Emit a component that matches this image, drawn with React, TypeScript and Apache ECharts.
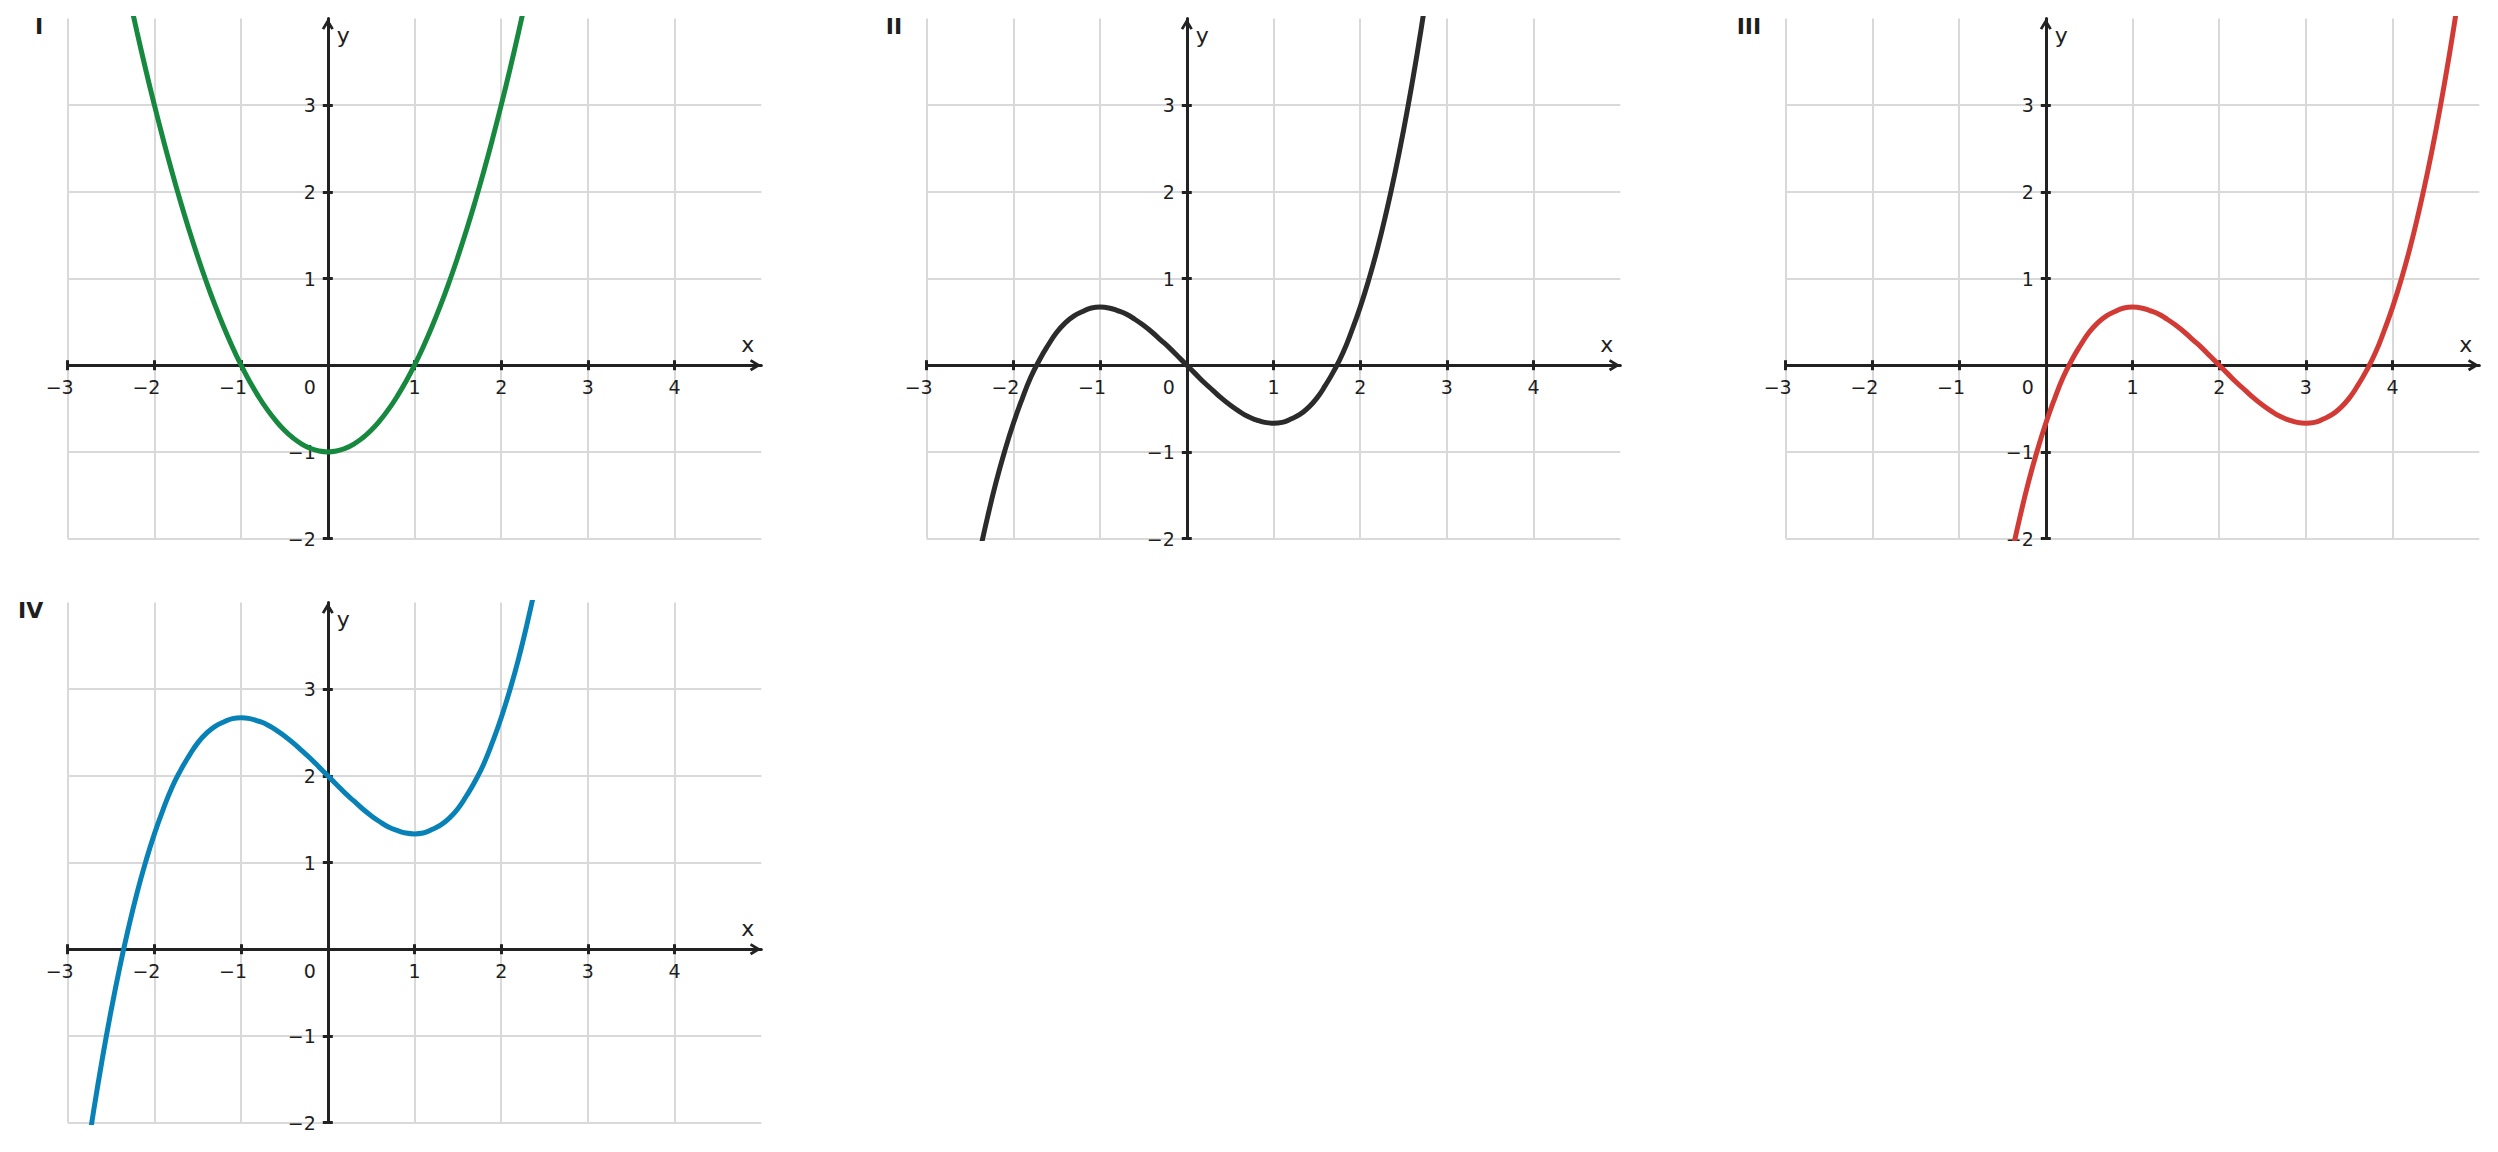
import * as echarts from "echarts";
import { useEffect, useRef } from "react";

const FONT = "DejaVu Sans";
const TEXT = "#1e1e1e";
const AXIS = "#222222";
const GRID_LINE = "#d9d9d9";

const PANEL_NAMES = ["I", "II", "III", "IV"];
const CURVE_COLORS = ["#16893f", "#2b2b2b", "#d23b35", "#0882b6"];

const X_TICKS = [-3, -2, -1, 1, 2, 3, 4];
const X_LABELS = [-3, -2, -1, 0, 1, 2, 3, 4];
const Y_TICKS = [-2, -1, 1, 2, 3];

// curve I
const X_I = [-2.3, -2.2, -2.1, -2, -1.9, -1.8, -1.7, -1.6, -1.5, -1.4, -1.3, -1.2, -1.1, -1, -0.9, -0.8, -0.7, -0.6, -0.5, -0.4, -0.3, -0.2, -0.1, 0,
  0.1, 0.2, 0.3, 0.4, 0.5, 0.6, 0.7, 0.8, 0.9, 1, 1.1, 1.2, 1.3, 1.4, 1.5, 1.6, 1.7, 1.8, 1.9, 2, 2.1, 2.2, 2.3];
const Y_I = [4.29, 3.84, 3.41, 3, 2.61, 2.24, 1.89, 1.56, 1.25, 0.96, 0.69, 0.44, 0.21, 0, -0.19, -0.36, -0.51, -0.64, -0.75, -0.84, -0.91, -0.96, -0.99, -1,
  -0.99, -0.96, -0.91, -0.84, -0.75, -0.64, -0.51, -0.36, -0.19, 0, 0.21, 0.44, 0.69, 0.96, 1.25, 1.56, 1.89, 2.24, 2.61, 3, 3.41, 3.84, 4.29];

// curve II
const X_II = [-2.4, -2.3, -2.2, -2.1, -2, -1.9, -1.8, -1.7, -1.6, -1.5, -1.4, -1.3, -1.2, -1.1, -1, -0.9, -0.8, -0.7, -0.6, -0.5, -0.4, -0.3, -0.2, -0.1, 0,
  0.1, 0.2, 0.3, 0.4, 0.5, 0.6, 0.7, 0.8, 0.9, 1, 1.1, 1.2, 1.3, 1.4, 1.5, 1.6, 1.7, 1.8, 1.9, 2, 2.1, 2.2, 2.3, 2.4, 2.5, 2.6, 2.7, 2.8];
const Y_II = [-2.21, -1.76, -1.35, -0.99, -0.67, -0.39, -0.14, 0.06, 0.23, 0.38, 0.49, 0.57, 0.62, 0.66, 0.67, 0.66, 0.63, 0.59, 0.53, 0.46, 0.38, 0.29, 0.2, 0.1, 0,
  -0.1, -0.2, -0.29, -0.38, -0.46, -0.53, -0.59, -0.63, -0.66, -0.67, -0.66, -0.62, -0.57, -0.49, -0.38, -0.23, -0.06, 0.14, 0.39, 0.67, 0.99, 1.35, 1.76, 2.21, 2.71, 3.26, 3.86, 4.52];

// curve III
const X_III = [-0.4, -0.3, -0.2, -0.1, 0, 0.1, 0.2, 0.3, 0.4, 0.5, 0.6, 0.7, 0.8, 0.9, 1, 1.1, 1.2, 1.3, 1.4, 1.5, 1.6, 1.7, 1.8, 1.9, 2,
  2.1, 2.2, 2.3, 2.4, 2.5, 2.6, 2.7, 2.8, 2.9, 3, 3.1, 3.2, 3.3, 3.4, 3.5, 3.6, 3.7, 3.8, 3.9, 4, 4.1, 4.2, 4.3, 4.4, 4.5, 4.6, 4.7, 4.8];
const Y_III = [-2.21, -1.76, -1.35, -0.99, -0.67, -0.39, -0.14, 0.06, 0.23, 0.38, 0.49, 0.57, 0.62, 0.66, 0.67, 0.66, 0.63, 0.59, 0.53, 0.46, 0.38, 0.29, 0.2, 0.1, 0,
  -0.1, -0.2, -0.29, -0.38, -0.46, -0.53, -0.59, -0.63, -0.66, -0.67, -0.66, -0.62, -0.57, -0.49, -0.38, -0.23, -0.06, 0.14, 0.39, 0.67, 0.99, 1.35, 1.76, 2.21, 2.71, 3.26, 3.86, 4.52];

// curve IV
const X_IV = [-2.8, -2.7, -2.6, -2.5, -2.4, -2.3, -2.2, -2.1, -2, -1.9, -1.8, -1.7, -1.6, -1.5, -1.4, -1.3, -1.2, -1.1, -1, -0.9, -0.8, -0.7, -0.6, -0.5, -0.4, -0.3, -0.2, -0.1, 0,
  0.1, 0.2, 0.3, 0.4, 0.5, 0.6, 0.7, 0.8, 0.9, 1, 1.1, 1.2, 1.3, 1.4, 1.5, 1.6, 1.7, 1.8, 1.9, 2, 2.1, 2.2, 2.3, 2.4, 2.5];
const Y_IV = [-2.52, -1.86, -1.26, -0.71, -0.21, 0.24, 0.65, 1.01, 1.33, 1.61, 1.86, 2.06, 2.23, 2.38, 2.49, 2.57, 2.62, 2.66, 2.67, 2.66, 2.63, 2.59, 2.53, 2.46, 2.38, 2.29, 2.2, 2.1, 2,
  1.9, 1.8, 1.71, 1.62, 1.54, 1.47, 1.41, 1.37, 1.34, 1.33, 1.34, 1.38, 1.43, 1.51, 1.62, 1.77, 1.94, 2.14, 2.39, 2.67, 2.99, 3.35, 3.76, 4.21, 4.71];

const CURVES = [
  [X_I, Y_I],
  [X_II, Y_II],
  [X_III, Y_III],
  [X_IV, Y_IV],
];

// panel placement (px)
const PANEL_LEFT = [67.7, 926.7, 1785.7, 67.7];
const PANEL_TOP = [18.4, 18.4, 18.4, 602.4];
const GRID_W = 693.6;
const GRID_H = 520.2;

// open chevron for the axis ends (points up before echarts rotates it)
const ARROW = "path://M6 0 L12 10 L9.6 11.44 L6 5.45 L2.4 11.44 L0 10 Z";

const minus = (v: number) => (v < 0 ? "\u2212" + -v : String(v));

const tickStyle = { color: AXIS, width: 3 };

// labels stay at the grid edge, pull them back to the zero lines
const X_LABEL_MARGIN = -(GRID_H * 2) / 6 + 12;
const Y_LABEL_MARGIN = -(GRID_W * 3) / 8 + 12;

const xAxesFor = (g: number) => [
  {
    type: "value",
    gridIndex: g,
    min: -3,
    max: 5,
    interval: 1,
    position: "bottom",
    axisLine: {
      onZero: true,
      symbol: ["none", ARROW],
      symbolSize: [12, 11.5],
      symbolOffset: [0, -5.75],
      lineStyle: { color: AXIS, width: 3 },
    },
    axisTick: { customValues: X_TICKS, length: 5, lineStyle: tickStyle },
    axisLabel: {
      customValues: X_LABELS,
      margin: X_LABEL_MARGIN,
      fontFamily: FONT,
      fontSize: 19,
      color: TEXT,
      formatter: (v: number) =>
        v === 0 ? "{z|0}" : v < 0 ? "{n|" + minus(v) + "}" : "{p|" + v + "}",
      rich: {
        z: { fontFamily: FONT, fontSize: 19, color: TEXT, padding: [0, 36, 0, 0] },
        n: { fontFamily: FONT, fontSize: 19, color: TEXT, padding: [0, 16, 0, 0] },
        p: { fontFamily: FONT, fontSize: 19, color: TEXT },
      },
    },
    splitLine: { show: true, lineStyle: { color: GRID_LINE, width: 2 } },
  },
  {
    type: "value",
    gridIndex: g,
    min: -3,
    max: 5,
    interval: 1,
    position: "top",
    axisLine: { show: false, onZero: true },
    axisTick: { customValues: X_TICKS, length: 5, lineStyle: tickStyle },
    axisLabel: { show: false },
    splitLine: { show: false },
  },
];

const yAxesFor = (g: number) => [
  {
    type: "value",
    gridIndex: g,
    min: -2,
    max: 4,
    interval: 1,
    position: "left",
    axisLine: {
      onZero: true,
      symbol: ["none", ARROW],
      symbolSize: [12, 11.5],
      symbolOffset: [0, -5.75],
      lineStyle: { color: AXIS, width: 3 },
    },
    axisTick: { customValues: Y_TICKS, length: 5, lineStyle: tickStyle },
    axisLabel: {
      customValues: Y_TICKS,
      margin: Y_LABEL_MARGIN,
      fontFamily: FONT,
      fontSize: 19,
      color: TEXT,
      formatter: (v: number) => minus(v),
    },
    splitLine: { show: true, lineStyle: { color: GRID_LINE, width: 2 } },
    name: "y",
    nameLocation: "end",
    nameGap: -17,
    nameTextStyle: {
      fontFamily: FONT,
      fontSize: 22,
      color: TEXT,
      align: "left",
      verticalAlign: "middle",
      padding: [0, 0, 0, 9],
    },
  },
  {
    type: "value",
    gridIndex: g,
    min: -2,
    max: 4,
    interval: 1,
    position: "right",
    axisLine: { show: false, onZero: true },
    axisTick: { customValues: Y_TICKS, length: 5, lineStyle: tickStyle },
    axisLabel: { show: false },
    splitLine: { show: false },
  },
];

const App = () => {
  const chartRef = useRef<HTMLDivElement | null>(null);

  useEffect(() => {
    const chart = echarts.init(chartRef.current!, null, { renderer: "svg" });

    const panelLabels = PANEL_NAMES.map((name, i) => ({
      type: "text",
      x: PANEL_LEFT[i] - 24.5,
      y: PANEL_TOP[i] + 8.5,
      style: {
        text: name,
        fontFamily: FONT,
        fontSize: 22,
        fontWeight: "bold",
        fill: TEXT,
        align: "right",
        verticalAlign: "middle",
      },
    }));

    const option = {
      animation: false,
      backgroundColor: "#ffffff",
      grid: PANEL_LEFT.map((left, i) => ({
        left,
        top: PANEL_TOP[i],
        width: GRID_W,
        height: GRID_H,
        outerBoundsMode: "none",
      })),
      xAxis: PANEL_NAMES.flatMap((_, i) => xAxesFor(i)),
      yAxis: PANEL_NAMES.flatMap((_, i) => yAxesFor(i)),
      series: CURVES.map(([xs, ys], i) => ({
        type: "line",
        xAxisIndex: 2 * i,
        yAxisIndex: 2 * i,
        data: xs.map((x, k) => [x, ys[k]]),
        smooth: true,
        symbol: "none",
        clip: true,
        lineStyle: { color: CURVE_COLORS[i], width: 5 },
        z: 3,
      })),
      graphic: panelLabels,
    };

    chart.setOption(option);

    // "x" names sit just left of the arrow, above the axis
    const xNames = PANEL_NAMES.map((_, i) => {
      const [px, py] = chart.convertToPixel({ xAxisIndex: 2 * i, yAxisIndex: 2 * i }, [5, 0]) as number[];
      return {
        type: "text",
        x: px - 13.5,
        y: py - 20.5,
        style: {
          text: "x",
          fontFamily: FONT,
          fontSize: 22,
          fill: TEXT,
          align: "center",
          verticalAlign: "middle",
        },
      };
    });
    chart.setOption({ graphic: [...panelLabels, ...xNames] });

    return () => {
      chart.dispose();
    };
  }, []);

  return (
    <div
      ref={chartRef}
      style={{ position: "fixed", left: 0, top: 0, width: "2498px", height: "1152px" }}
    />
  );
};

export default App;
